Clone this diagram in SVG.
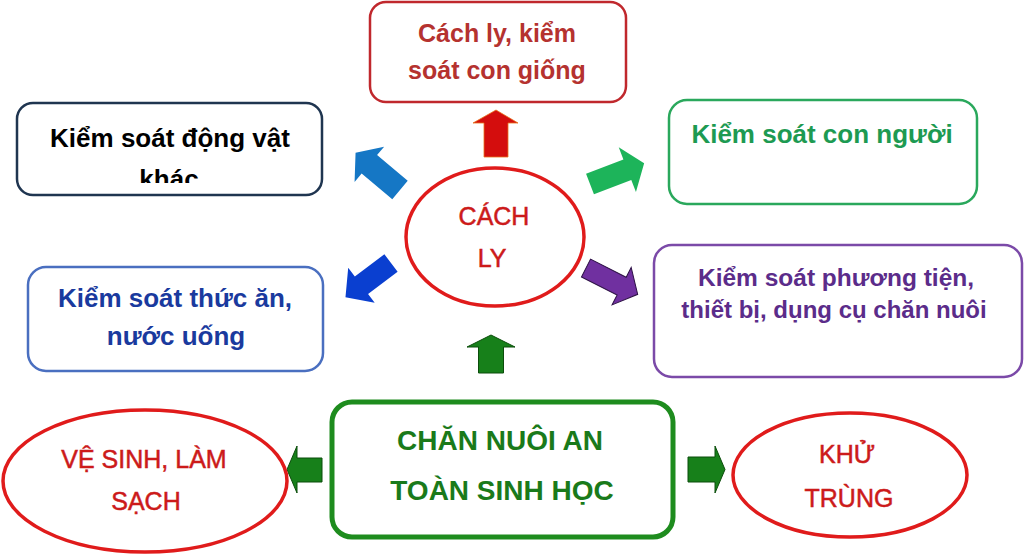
<svg xmlns="http://www.w3.org/2000/svg" width="1024" height="557" viewBox="0 0 1024 557">
<defs>
<style>
text{font-family:"Liberation Sans",Arial,sans-serif;text-anchor:middle}
.b{font-weight:bold}
.box{fill:#fff;stroke-width:2.5}
.ell{fill:#fff;stroke:#e01b1b;stroke-width:3.5}
.etx{fill:#cc1a1a;font-size:25px;stroke:#cc1a1a;stroke-width:0.5}
.gar{fill:#17801a;stroke:#0b4d0b;stroke-width:1}
</style>
<clipPath id="clipKhac"><rect x="0" y="0" width="400" height="183"/></clipPath>
</defs>
<rect width="1024" height="557" fill="#fff"/>

<g id="connectors">
<polygon points="484,157 484,123 473,123 496,110 518,123 508,123 508,157" fill="#d40d0d" stroke="#e8731c" stroke-width="0.8"/>
<polygon transform="translate(400,190) rotate(220)" points="0,-12 40,-12 40,-23 58,0 40,23 40,12 0,12" fill="#1577c5"/>
<polygon transform="translate(391,263) rotate(143)" points="0,-11 37,-11 37,-22 57,0 37,22 37,11 0,11" fill="#0a3fd0"/>
<polygon transform="translate(590,184) rotate(-21)" points="0,-11 40,-11 40,-24 58,0 40,24 40,11 0,11" fill="#1db45a"/>
<polygon transform="translate(586,268) rotate(27)" points="0,-10 40,-10 40,-21 58,0 40,21 40,10 0,10" fill="#7030a0" stroke="#2d1145" stroke-width="1"/>
<polygon class="gar" points="478.5,373 478.5,347 467,347 491,335 515,347 503.5,347 503.5,373"/>
<polygon class="gar" points="322,458 297,458 297,446 287,469.5 297,493 297,482 322,482"/>
<polygon class="gar" points="688,457 715,457 715,446 725,469.5 715,493 715,482 688,482"/>
</g>

<g id="node-cachly-giong">
<rect class="box" x="370" y="2" width="256" height="100" rx="16" stroke="#c0282d"/>
<text class="b" x="497" y="42" font-size="25" fill="#b5322f">Cách ly, kiểm</text>
<text class="b" x="497" y="79" font-size="25" fill="#b5322f">soát con giống</text>
</g>

<g id="node-dongvat">
<rect class="box" x="17" y="103" width="305" height="92" rx="16" stroke="#1f3550"/>
<text class="b" x="170" y="147" font-size="26" fill="#000">Kiểm soát động vật</text>
<text class="b" x="169" y="188" font-size="26" fill="#000" clip-path="url(#clipKhac)">khác</text>
</g>

<g id="node-connguoi">
<rect class="box" x="669" y="100" width="308" height="104" rx="18" stroke="#2aa85c"/>
<text class="b" x="822" y="143" font-size="26" fill="#1d9a52">Kiểm soát con người</text>
</g>

<g id="node-thucan">
<rect class="box" x="28" y="267" width="295" height="104" rx="18" stroke="#4a6fc0" stroke-width="2"/>
<text class="b" x="175" y="307" font-size="26" fill="#1a3a9e">Kiểm soát thức ăn,</text>
<text class="b" x="176" y="345" font-size="26" fill="#1a3a9e">nước uống</text>
</g>

<g id="node-phuongtien">
<rect class="box" x="654" y="245" width="368" height="132" rx="18" stroke="#7b4aa8"/>
<text class="b" x="836" y="286" font-size="24.5" fill="#5b2c8a">Kiểm soát phương tiện,</text>
<text class="b" x="834" y="318" font-size="24" fill="#5b2c8a">thiết bị, dụng cụ chăn nuôi</text>
</g>

<g id="node-cachly">
<ellipse class="ell" cx="495" cy="237" rx="89" ry="69"/>
<text class="etx" x="494" y="225" font-size="24">CÁCH</text>
<text class="etx" x="492" y="267" font-size="24">LY</text>
</g>

<g id="node-channuoi">
<rect x="332" y="402" width="341" height="135" rx="20" fill="#fff" stroke="#1e8c1e" stroke-width="5"/>
<text class="b" x="500" y="450" font-size="28" fill="#1a7a1a">CHĂN NUÔI AN</text>
<text class="b" x="502" y="500" font-size="28" fill="#1a7a1a">TOÀN SINH HỌC</text>
</g>

<g id="node-vesinh">
<ellipse class="ell" cx="145" cy="481" rx="142" ry="71"/>
<text class="etx" x="144" y="468">VỆ SINH, LÀM</text>
<text class="etx" x="146" y="510">SẠCH</text>
</g>

<g id="node-khutrung">
<ellipse class="ell" cx="850" cy="475" rx="117" ry="62"/>
<text class="etx" x="847" y="463">KHỬ</text>
<text class="etx" x="849" y="507">TRÙNG</text>
</g>
</svg>
